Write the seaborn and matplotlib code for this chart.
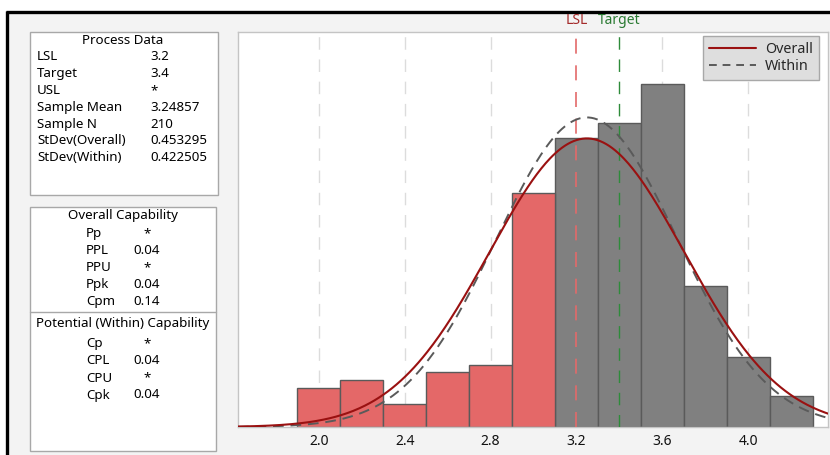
import numpy as np
import pandas as pd
import matplotlib
matplotlib.use("Agg")
import matplotlib.pyplot as plt
from matplotlib.patches import Rectangle
from matplotlib.lines import Line2D
import seaborn as sns

# histogram data (bin width 0.2)
bin_edges = [1.9, 2.1, 2.3, 2.5, 2.7, 2.9, 3.1, 3.3, 3.5, 3.7, 3.9, 4.1, 4.3]
bin_counts = [5, 6, 3, 7, 8, 30, 37, 39, 44, 18, 9, 4]
bin_group = ["low"] * 6 + ["high"] * 6

# process data
lsl = 3.2
target = 3.4
sample_mean = 3.24857
sample_n = 210
sd_overall = 0.453295
sd_within = 0.422505

process_rows = [("LSL", "3.2"), ("Target", "3.4"), ("USL", "*"),
                ("Sample Mean", "3.24857"), ("Sample N", "210"),
                ("StDev(Overall)", "0.453295"), ("StDev(Within)", "0.422505")]
overall_rows = [("Pp", "*"), ("PPL", "0.04"), ("PPU", "*"), ("Ppk", "0.04"), ("Cpm", "0.14")]
within_rows = [("Cp", "*"), ("CPL", "0.04"), ("CPU", "*"), ("Cpk", "0.04")]

sns.set_style("white")
plt.rcParams['font.family'] = ['Noto Sans', 'DejaVu Sans']

W, H = 830, 455
fig = plt.figure(figsize=(W / 100, H / 100), dpi=100)
fig.patch.set_facecolor("white")

# background panel in pixel coordinates
bg = fig.add_axes([0, 0, 1, 1])
bg.set_xlim(0, W)
bg.set_ylim(H, 0)
bg.axis("off")
bg.set_zorder(0)
bg.add_patch(Rectangle((7, 12), W, H, facecolor="#f3f3f3", edgecolor="none"))
bg.plot([6, W], [12, 12], color="black", lw=2.4, solid_capstyle="butt")
bg.plot([7, 7], [11, H], color="black", lw=2.4, solid_capstyle="butt")

box_kw = dict(facecolor="white", edgecolor="#a8a8a8", lw=1)
bg.add_patch(Rectangle((30, 32), 188, 163, **box_kw))
bg.add_patch(Rectangle((30, 207), 186, 244, **box_kw))
bg.plot([30, 216], [312, 312], color="#a8a8a8", lw=1)

fs = 9.6
tc = "black"
bg.text(123, 40, "Process Data", ha="center", va="center", fontsize=fs, color=tc)
for i, (k, v) in enumerate(process_rows):
    y = 57 + i * 16.8
    bg.text(37, y, k, ha="left", va="center", fontsize=fs, color=tc)
    bg.text(150, y, v, ha="left", va="center", fontsize=fs, color=tc)

bg.text(123, 216, "Overall Capability", ha="center", va="center", fontsize=fs, color=tc)
for i, (k, v) in enumerate(overall_rows):
    y = 234 + i * 16.8
    bg.text(86, y, k, ha="left", va="center", fontsize=fs, color=tc)
    bg.text(147, y, v, ha="center", va="center", fontsize=fs, color=tc)

bg.text(123, 323, "Potential (Within) Capability", ha="center", va="center", fontsize=fs, color=tc)
for i, (k, v) in enumerate(within_rows):
    y = 344 + i * 17
    bg.text(86, y, k, ha="left", va="center", fontsize=fs, color=tc)
    bg.text(147, y, v, ha="center", va="center", fontsize=fs, color=tc)

# main histogram axes
ax = fig.add_axes([238 / W, 28 / H, 590 / W, 395 / H])
ax.set_zorder(1)
ax.set_facecolor("white")

centers = [(a + b) / 2 for a, b in zip(bin_edges[:-1], bin_edges[1:])]
hist_df = pd.DataFrame({"x": centers, "n": bin_counts, "grp": bin_group})
sns.histplot(data=hist_df, x="x", weights="n", bins=bin_edges, hue="grp",
             palette={"low": "#e46868", "high": "#808080"}, alpha=1,
             edgecolor="#5a5a5a", linewidth=1, legend=False, ax=ax, zorder=2)

xmin, xmax = 1.623, 4.372
xs = np.linspace(xmin, xmax, 400)
scale = sample_n * 0.2
pdf_overall = scale * np.exp(-0.5 * ((xs - sample_mean) / sd_overall) ** 2) / (sd_overall * np.sqrt(2 * np.pi))
pdf_within = scale * np.exp(-0.5 * ((xs - sample_mean) / sd_within) ** 2) / (sd_within * np.sqrt(2 * np.pi))
sns.lineplot(x=xs, y=pdf_within, color="#5a5a5a", lw=1.4, ax=ax, zorder=4)
ax.lines[-1].set_dashes([5.5, 3.5])
sns.lineplot(x=xs, y=pdf_overall, color="#9a1111", lw=1.5, ax=ax, zorder=5)

# grid and spec lines
for g in [2.0, 2.4, 2.8, 3.6, 4.0]:
    ax.axvline(g, color="#dcdcdc", lw=1, dashes=(9, 7), zorder=1)
ax.axvline(lsl, color="#e36a6a", lw=1.2, dashes=(9, 7), zorder=3)
ax.axvline(target, color="#2e8b3a", lw=1, dashes=(9, 7), zorder=3)
ax.text(lsl, 1.01, "LSL", color="#a42b2b", fontsize=10, ha="center", va="bottom",
        fontweight="semibold", transform=ax.get_xaxis_transform(), clip_on=False)
ax.text(target, 1.01, "Target", color="#2a7a32", fontsize=10, ha="center", va="bottom",
        fontweight="semibold", transform=ax.get_xaxis_transform(), clip_on=False)

ax.set_xlim(xmin, xmax)
ax.set_ylim(0, 50.6)
ax.set_xticks([2.0, 2.4, 2.8, 3.2, 3.6, 4.0])
ax.set_xticklabels(["2.0", "2.4", "2.8", "3.2", "3.6", "4.0"], fontweight="semibold")
ax.set_xticks([1.8, 2.2, 2.6, 3.0, 3.4, 3.8, 4.2], minor=True)
ax.set_yticks([])
ax.set_xlabel("")
ax.set_ylabel("")
ax.tick_params(axis="x", which="both", direction="out", length=3, width=0.8,
               color="#999999", labelsize=10, labelcolor="#111111", pad=2)
for s in ax.spines.values():
    s.set_color("#c4c4c4")
    s.set_linewidth(1)

handles = [Line2D([], [], color="#9a1111", lw=1.5),
           Line2D([], [], color="#5a5a5a", lw=1.4, dashes=(4, 3))]
leg = ax.legend(handles, ["Overall", "Within"], loc="upper right", fontsize=10.3,
                frameon=True, fancybox=False, bbox_to_anchor=(0.985, 0.99),
                borderaxespad=0, handlelength=3.3, labelspacing=0.1,
                borderpad=0.45, handletextpad=0.6)
leg.get_frame().set_facecolor("#dedede")
leg.get_frame().set_edgecolor("#a8a8a8")
leg.get_frame().set_alpha(1)

fig.savefig("out.png", dpi=100)
